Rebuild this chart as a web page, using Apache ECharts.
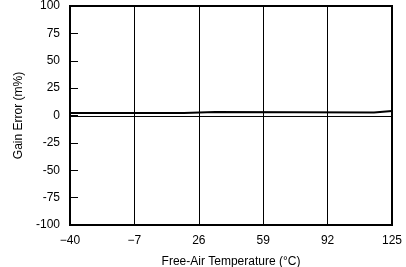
<!DOCTYPE html>
<html><head><meta charset="utf-8">
<script src="https://cdn.jsdelivr.net/npm/echarts@6/dist/echarts.min.js"></script>
<style>html,body{margin:0;padding:0;background:#fff}#c{width:406px;height:267px}</style>
</head><body><div id="c"></div>
<script>
var xTicks = [-40, -7, 26, 59, 92, 125];
var yTicks = [-100, -75, -50, -25, 0, 25, 50, 75, 100];
var thickTemps = [-40, 18.4, 18.4, 34.3, 34.3, 115.8, 115.8, 125];
var thickVals  = [2.3, 2.3, 3.3, 3.3, 2.8, 2.8, 4.2, 4.2];
var thinTemps = [-40, 125];
var thinVals  = [-0.9, -0.9];

function pairs(xs, ys){ return xs.map(function(x,i){ return [x, ys[i]]; }); }
var font = 'Liberation Sans, Arial, sans-serif';
var chart = echarts.init(document.getElementById('c'), null, {renderer:'canvas'});
chart.setOption({
  animation:false,
  grid:{left:70, right:14, top:6, bottom:42, containLabel:false, outerBoundsMode:'none'},
  xAxis:{
    type:'value', min:-40, max:125, interval:33,
    name:'Free-Air Temperature (°C)', nameLocation:'middle', nameGap:31,
    nameTextStyle:{color:'#000', fontSize:12, fontFamily:font},
    axisLine:{show:true, onZero:false, lineStyle:{color:'#000', width:2}},
    axisTick:{show:false},
    splitLine:{show:true, lineStyle:{color:'#000', width:1}},
    axisLabel:{color:'#000', fontSize:12, fontFamily:font, margin:10,
      formatter:function(v){ return v<0 ? '\u2212'+Math.abs(v) : String(v); }}
  },
  yAxis:{
    type:'value', min:-100, max:100, interval:25,
    name:'Gain Error (m%)', nameLocation:'middle', nameGap:42, nameRotate:90,
    nameTextStyle:{color:'#000', fontSize:12, fontFamily:font},
    axisLine:{show:true, onZero:false, lineStyle:{color:'#000', width:2}},
    axisTick:{show:true, inside:true, length:8, lineStyle:{color:'#000', width:1}},
    splitLine:{show:false},
    axisLabel:{color:'#000', fontSize:12, fontFamily:font, margin:10}
  },
  series:[
    {type:'line', data:pairs(thickTemps, thickVals), symbol:'none',
     lineStyle:{color:'#000', width:2}},
    {type:'line', data:pairs(thinTemps, thinVals), symbol:'none',
     lineStyle:{color:'#000', width:1}}
  ],
  graphic:[{type:'rect', shape:{x:70, y:6, width:322, height:219},
    style:{fill:'none', stroke:'#000', lineWidth:2}, silent:true, z:100}]
});
</script></body></html>
